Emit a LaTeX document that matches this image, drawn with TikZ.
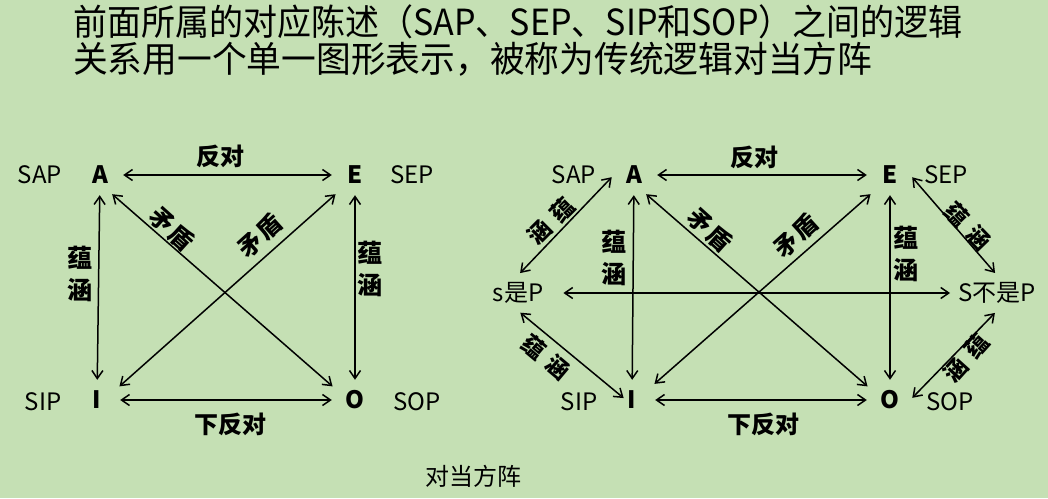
\documentclass[tikz,border=0pt]{standalone}
\usepackage{fontspec}
\setmainfont{Noto Sans CJK SC}
\usepackage{tikz}
\usetikzlibrary{arrows.meta}
\definecolor{bggreen}{RGB}{197,224,180}

\begin{document}
\begin{tikzpicture}[x=1pt, y=-1pt,
    vertex/.style={font=\bfseries\fontsize{24}{24}\selectfont, minimum width=40pt, minimum height=34pt, inner sep=0pt},
    prop/.style={font=\fontsize{24}{24}\selectfont, inner xsep=5pt, inner ysep=7pt},
    relation/.style={font=\bfseries\fontsize{24}{24}\selectfont, inner sep=0pt},
    imply/.style={font=\bfseries\fontsize{23}{23}\selectfont, inner sep=0pt},
    stack/.style={align=center, font=\bfseries\fontsize{25}{32}\selectfont, inner sep=0pt},
    dual/.style={{Straight Barb[length=8pt,width=11pt]}-{Straight Barb[length=8pt,width=11pt]}, line width=1.5pt, shorten <=3pt, shorten >=3pt}]
    % Background
    \fill[bggreen] (0,0) rectangle (1048,498);
    \useasboundingbox (0,0) rectangle (1048,498);

    % Title
    \node[anchor=north west, align=left, inner sep=0pt, font=\fontsize{36}{37}\selectfont] at (73,4) (title)
        {\scalebox{0.945}[1]{前面所属的对应陈述（SAP、SEP、SIP和SOP）之间的逻辑}\\
         \scalebox{0.965}[1]{关系用一个单一图形表示，被称为传统逻辑对当方阵}};

    % Left square
    \node[vertex] at (100,175) (A1) {A};
    \node[vertex] at (355,175) (E1) {E};
    \node[vertex] at (97,400) (I1) {I};
    \node[vertex] at (355,400) (O1) {O};
    \node[prop] at (40,175) (sap1) {SAP};
    \node[prop] at (412,175) (sep1) {SEP};
    \node[prop] at (43,402) (sip1) {SIP};
    \node[prop] at (417,402) (sop1) {SOP};

    \draw[dual] (A1) -- (E1);
    \draw[dual] (I1) -- (O1);
    \draw[dual] (A1) -- (I1);
    \draw[dual] (E1) -- (O1);
    \draw[dual] (A1.-60) -- (O1.150);
    \draw[dual] (I1.30) -- (E1.-135);

    \node[relation] at (220,156) (con1) {反对};
    \node[relation] at (230,424) (sub1) {下反对};
    \node[stack] at (80,274) (impl1) {蕴\\涵};
    \node[stack] at (370,269) (impr1) {蕴\\涵};
    \node[relation, rotate=-42] at (172,229) (cda1) {矛\hspace{2pt}盾};
    \node[relation, rotate=42] at (260,236) (cdb1) {矛\hspace{2pt}盾};

    % Right square
    \node[vertex] at (634,175) (A2) {A};
    \node[vertex] at (890,175) (E2) {E};
    \node[vertex] at (632,400) (I2) {I};
    \node[vertex] at (890,400) (O2) {O};
    \node[prop] at (574,175) (sap2) {SAP};
    \node[prop] at (946,175) (sep2) {SEP};
    \node[prop] at (579,402) (sip2) {SIP};
    \node[prop] at (950,402) (sop2) {SOP};
    \node[prop] at (518,293) (sP) {s是P};
    \node[prop] at (997,293) (nsP) {S不是P};
    \coordinate (Ileft) at ([xshift=-6pt]I2.center);

    \draw[dual] (A2) -- (E2);
    \draw[dual] (I2) -- (O2);
    \draw[dual] (A2) -- (I2);
    \draw[dual] (E2) -- (O2);
    \draw[dual] (A2.-60) -- (O2.150);
    \draw[dual] (I2.35) -- (E2.-135);
    \draw[dual, shorten <=15pt] (sP) -- (nsP);
    \draw[dual] (A2.west) -- (sP.north);
    \draw[dual] (sP.south) -- (Ileft);
    \draw[dual] (E2.east) -- (nsP.north);
    \draw[dual] (nsP.south) -- (O2.east);

    \node[relation] at (754,157) (con2) {反对};
    \node[relation] at (763,424) (sub2) {下反对};
    \node[stack] at (614,258) (impl2) {蕴\\涵};
    \node[stack] at (906,254) (impr2) {蕴\\涵};
    \node[relation, rotate=-42] at (710,230) (cda2) {矛\hspace{2pt}盾};
    \node[relation, rotate=42] at (796,236) (cdb2) {矛\hspace{2pt}盾};
    \node[imply, rotate=45] at (551,221) (ua) {涵\hspace{9pt}蕴};
    \node[imply, rotate=-40] at (546,357) (la) {蕴\hspace{9pt}涵};
    \node[imply, rotate=-46] at (968,226) (ub) {蕴\hspace{9pt}涵};
    \node[imply, rotate=48] at (966,358) (lb) {涵\hspace{9pt}蕴};

    % Caption
    \node[font=\fontsize{24}{24}\selectfont] at (473,476) (cap) {对当方阵};
\end{tikzpicture}
\end{document}
